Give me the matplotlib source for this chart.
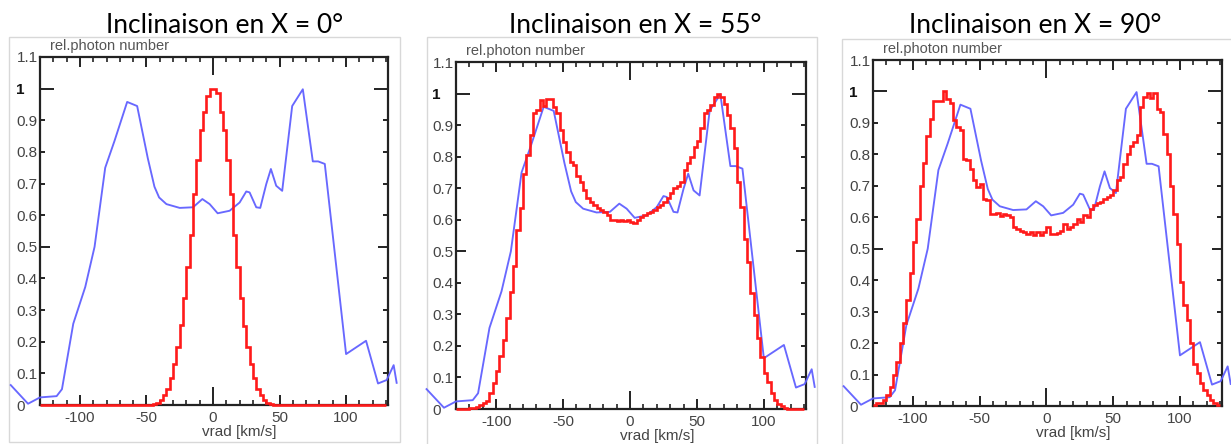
import numpy as np
import matplotlib
matplotlib.use("Agg")
import matplotlib.pyplot as plt
from matplotlib.patches import Rectangle
from matplotlib.ticker import FixedLocator, MultipleLocator

plt.rcParams['axes.unicode_minus'] = False
plt.rcParams['font.family'] = ['Liberation Sans', 'DejaVu Sans']

# ---------------- data ----------------
titles = ["Inclinaison en X = 0°", "Inclinaison en X = 55°", "Inclinaison en X = 90°"]
xlabel = "vrad [km/s]"
ylabel = "rel.photon number"

xticks = [-100, -50, 0, 50, 100]
xtick_labels = ["-100", "-50", "0", "50", "100"]
yticks = [0.0, 0.1, 0.2, 0.3, 0.4, 0.5, 0.6, 0.7, 0.8, 0.9, 1.0, 1.1]
ytick_labels = ["0", "0.1", "0.2", "0.3", "0.4", "0.5", "0.6", "0.7", "0.8", "0.9", "1", "1.1"]

# histogram bin edges (km/s) of the simulated profiles
bin_edges = np.arange(-130.0, 130.01, 2.5)

# observed profile (blue), same in all panels
blue_v = [-152, -139, -130, -117.5, -113.5, -105, -96, -89, -81, -74, -64.5, -57,
          -49, -44, -40.5, -35, -25, -15, -8, -2.5, 3.5, 12.5, 20, 25, 27.5, 32.5,
          35.5, 40, 43.5, 47.5, 52, 59.5, 67.5, 75, 79, 84, 100, 115, 124, 130.5,
          135.75, 138]
blue_y = [0.063, 0.004, 0.024, 0.028, 0.05, 0.257, 0.373, 0.5, 0.75, 0.835, 0.958, 0.945,
          0.78, 0.69, 0.656, 0.635, 0.623, 0.625, 0.651, 0.635, 0.606, 0.614, 0.64, 0.675,
          0.672, 0.625, 0.623, 0.698, 0.746, 0.693, 0.677, 0.945, 0.998, 0.77, 0.77, 0.762,
          0.161, 0.203, 0.068, 0.079, 0.126, 0.07]

# simulated profiles (red), one value per 2.5 km/s bin from -130 to 130
red_0 = ([0.0] * 33 +
         [0.001, 0.003, 0.007, 0.015, 0.032, 0.052, 0.084, 0.131, 0.184, 0.252,
          0.337, 0.436, 0.536, 0.667, 0.773, 0.868, 0.925, 0.978, 1.0,
          1.0, 0.985, 0.925, 0.868, 0.773, 0.667, 0.536, 0.436, 0.337, 0.25,
          0.184, 0.131, 0.084, 0.052, 0.032, 0.015, 0.007, 0.003, 0.001] +
         [0.0] * 33)

red_55 = [0.0, 0.0, 0.0, 0.001, 0.002, 0.004, 0.007, 0.013, 0.018, 0.025,
          0.05, 0.082, 0.119, 0.167, 0.22, 0.288, 0.37, 0.454, 0.566, 0.637,
          0.745, 0.805, 0.868, 0.937, 0.947, 0.98, 0.96, 0.983, 0.983, 0.957,
          0.937, 0.884, 0.847, 0.815, 0.784, 0.773,
          0.74, 0.72, 0.694, 0.668, 0.657, 0.647, 0.636, 0.631, 0.626, 0.615,
          0.6, 0.598, 0.597, 0.598, 0.596, 0.598,
          0.593, 0.59, 0.6, 0.61, 0.615, 0.62, 0.626, 0.632, 0.64, 0.647,
          0.657, 0.668, 0.684, 0.7, 0.706, 0.72,
          0.758, 0.78, 0.8, 0.83, 0.848, 0.89, 0.937, 0.947, 0.963, 0.99,
          1.0, 0.99, 0.968, 0.932, 0.89, 0.826,
          0.72, 0.64, 0.54, 0.467, 0.367, 0.298, 0.224, 0.166, 0.113, 0.087,
          0.05, 0.029, 0.017, 0.008, 0.003, 0.001, 0.0, 0.0, 0.0, 0.0]

red_90 = [0.003, 0.008, 0.008, 0.019, 0.035, 0.061, 0.098, 0.141, 0.199, 0.265,
          0.336, 0.423, 0.52, 0.593, 0.698, 0.772, 0.857, 0.913, 0.969, 0.969,
          0.969, 1.0, 0.977, 0.963, 0.908, 0.887, 0.876, 0.786, 0.781, 0.754,
          0.72, 0.696, 0.706, 0.659, 0.654, 0.611,
          0.611, 0.614, 0.603, 0.611, 0.606, 0.601, 0.569, 0.562, 0.556, 0.553,
          0.546, 0.553, 0.543, 0.553, 0.543, 0.553,
          0.569, 0.548, 0.548, 0.55, 0.556, 0.58, 0.564, 0.569, 0.58, 0.596,
          0.585, 0.606, 0.601, 0.627, 0.638, 0.645,
          0.649, 0.659, 0.665, 0.67, 0.686, 0.717, 0.728, 0.77, 0.802, 0.828,
          0.839, 0.86, 0.95, 0.982, 0.995, 0.98,
          0.995, 0.945, 0.934, 0.866, 0.802, 0.698, 0.611, 0.516, 0.394, 0.32,
          0.273, 0.199, 0.135, 0.104, 0.072, 0.051, 0.035, 0.019, 0.011, 0.003]

red_profiles = [red_0, red_55, red_90]

# ---------------- layout ----------------
W, H = 1231, 444
fig = plt.figure(figsize=(W / 100, H / 100), dpi=100)
fig.patch.set_facecolor('white')

axes_px = [(40, 57, 388, 405), (456, 62, 806, 409), (873, 60, 1222, 406)]
boxes_px = [(9, 37, 400, 442), (427, 37, 817, 446), (842, 39, 1232, 446)]
title_cx = [225, 635, 1035]

for (bx0, by0, bx1, by1) in boxes_px:
    fig.add_artist(Rectangle((bx0 / W, 1 - by1 / H), (bx1 - bx0) / W, (by1 - by0) / H,
                             transform=fig.transFigure, fill=False,
                             ec='#d8d8d8', lw=1.0, zorder=0))

for i, (l, t, r, b) in enumerate(axes_px):
    ax = fig.add_axes([l / W, 1 - b / H, (r - l) / W, (b - t) / H])
    ax.set_xlim(-130, 131.5)
    ax.set_ylim(0, 1.1)

    ax.plot(blue_v, blue_y, color='#6060ff', lw=1.35, clip_on=False, zorder=4, alpha=0.95)
    ax.stairs(red_profiles[i], bin_edges, color='#ff1a1a', lw=1.9, baseline=None,
              clip_on=False, zorder=5)

    for sp in ax.spines.values():
        sp.set_linewidth(1.6)
        sp.set_color('#222222')

    ax.xaxis.set_major_locator(FixedLocator(xticks))
    ax.set_xticklabels(xtick_labels)
    ax.xaxis.set_minor_locator(MultipleLocator(10))
    ax.set_yticks(yticks)
    ax.set_yticklabels(ytick_labels)

    ax.tick_params(axis='x', which='both', direction='in', top=True, bottom=True,
                   color='#222222')
    ax.tick_params(axis='x', which='major', length=7, width=1.4, labelsize=11,
                   pad=4, labelcolor='#444444')
    ax.tick_params(axis='x', which='minor', length=3.5, width=1.2)
    ax.tick_params(axis='y', which='major', direction='in', left=True, right=True,
                   length=3.5, width=1.4, labelsize=11, pad=17,
                   labelcolor='#444444', color='#222222')
    for lab in ax.get_yticklabels():
        lab.set_horizontalalignment('left')
    ax.get_yticklabels()[10].set_fontweight('bold')
    ax.get_yticklabels()[10].set_color('#111111')

    # longer ticks at 0 (x) and at 0.5 / 1 (y)
    xt = ax.xaxis.get_major_ticks()
    xt[2].tick1line.set_markersize(13)
    xt[2].tick2line.set_markersize(13)
    yt = ax.yaxis.get_major_ticks()
    for k, ms in ((5, 7), (10, 10)):
        yt[k].tick1line.set_markersize(ms)
        yt[k].tick2line.set_markersize(ms)

    ax.text(0.03, 1.012, ylabel, transform=ax.transAxes, ha='left', va='bottom',
            fontsize=10.5, color='#555555')
    ax.text(20, -0.078, xlabel, transform=ax.get_xaxis_transform(), ha='center',
            va='center', fontsize=11, color='#444444')

    fig.text(title_cx[i] / W, 1 - 33 / H, titles[i], ha='center', va='baseline',
             fontsize=19, family=['Lato', 'DejaVu Sans'], color='black')

fig.savefig('out.png', dpi=100)
